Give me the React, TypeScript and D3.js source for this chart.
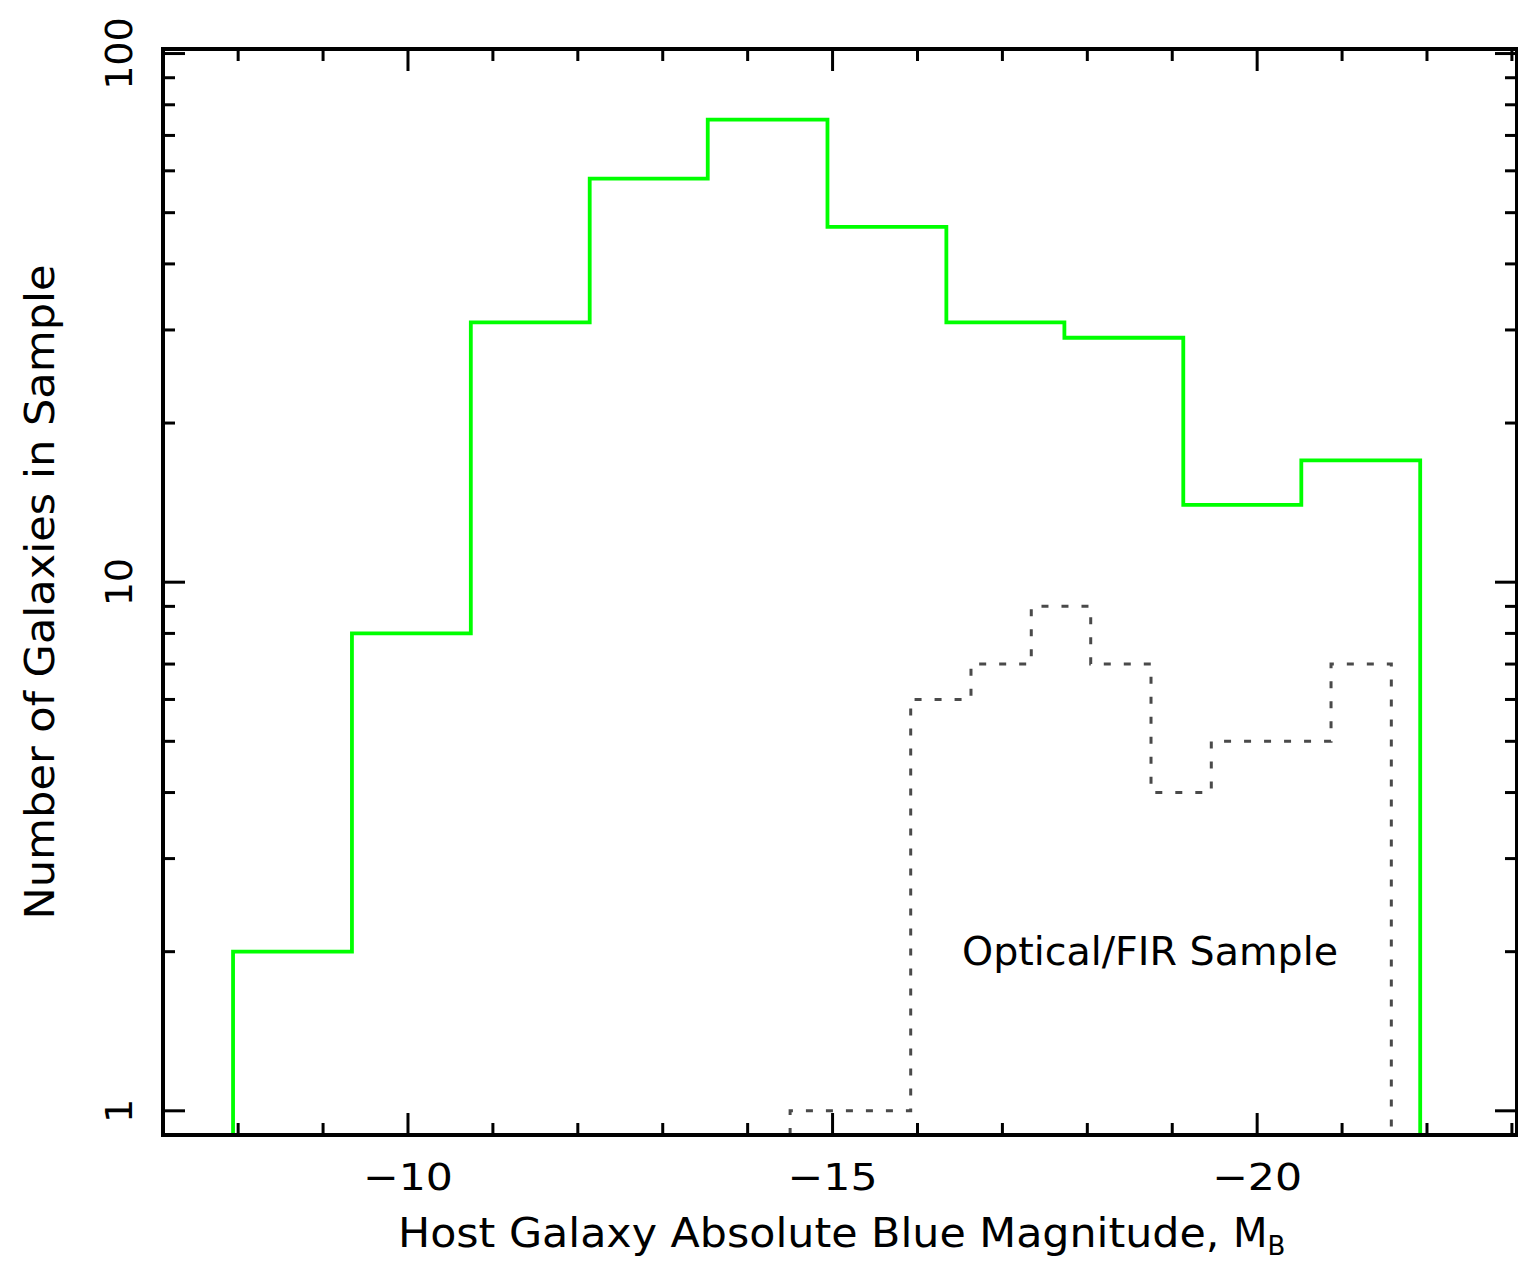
import React from "react";
import * as d3 from "d3";

// Green histogram: bin edges (M_B) and counts
const greenEdges = [-7.94, -9.34, -10.74, -12.14, -13.53, -14.94, -16.34, -17.73, -19.13, -20.52, -21.92];
const greenCounts = [2, 8, 31, 58, 75, 47, 31, 29, 14, 17];

// Optical/FIR sample (dotted)
const firEdges = [-14.5, -15.21, -15.92, -16.63, -17.34, -18.04, -18.75, -19.46, -20.16, -20.87, -21.58];
const firCounts = [1, 1, 6, 7, 9, 7, 4, 5, 5, 7];

const xMajorTicks = [-10, -15, -20];
const xMinorTicks = [-8, -9, -11, -12, -13, -14, -16, -17, -18, -19, -21, -22, -23];
const yMajorTicks = [1, 10, 100];
const yMinorTicks = [2, 3, 4, 5, 6, 7, 8, 9, 20, 30, 40, 50, 60, 70, 80, 90];

const xDomain = [-7.115, -23.06];
const yDomain = [0.9, 102];

const W = 1518;
const H = 1264;
const L = 163, R = 1517, T = 49, B = 1135;

const FONT = "'DejaVu Sans', sans-serif";

function stepPath(edges: number[], counts: number[], x: any, y: any) {
  const pts: [number, number][] = [];
  pts.push([x(edges[0]), B]);
  counts.forEach((c, i) => {
    pts.push([x(edges[i]), y(c)]);
    pts.push([x(edges[i + 1]), y(c)]);
  });
  pts.push([x(edges[edges.length - 1]), B]);
  return d3.line()(pts) as string;
}

export default function App() {
  const x = d3.scaleLinear().domain(xDomain).range([L, R]);
  const y = d3.scaleLog().domain(yDomain).range([B, T]);

  return (
    <svg
      width={W}
      height={H}
      style={{ position: "absolute", left: 0, top: 0, background: "#fff" }}
      fontFamily={FONT}
    >
      <rect x={0} y={0} width={W} height={H} fill="#fff" />
      {/* histograms */}
      <path d={stepPath(greenEdges, greenCounts, x, y)} fill="none" stroke="#00ff00" strokeWidth={3.8} />
      <path
        d={stepPath(firEdges, firCounts, x, y)}
        fill="none"
        stroke="#4a4a4a"
        strokeWidth={3}
        strokeDasharray="7,13"
      />

      {/* x ticks bottom & top */}
      {xMajorTicks.map((t) => (
        <g key={"xM" + t}>
          <line x1={x(t)} x2={x(t)} y1={B} y2={B - 22} stroke="#000" strokeWidth={3} />
          <line x1={x(t)} x2={x(t)} y1={T} y2={T + 22} stroke="#000" strokeWidth={3} />
          <text x={x(t)} y={1190} textAnchor="middle" fontSize={38} textLength={90} lengthAdjust="spacingAndGlyphs">
            {"\u2212" + Math.abs(t)}
          </text>
        </g>
      ))}
      {xMinorTicks.map((t) => (
        <g key={"xm" + t}>
          <line x1={x(t)} x2={x(t)} y1={B} y2={B - 12} stroke="#000" strokeWidth={3} />
          <line x1={x(t)} x2={x(t)} y1={T} y2={T + 12} stroke="#000" strokeWidth={3} />
        </g>
      ))}

      {/* y ticks left & right */}
      {yMajorTicks.map((t) => (
        <g key={"yM" + t}>
          <line x1={L} x2={L + 22} y1={y(t)} y2={y(t)} stroke="#000" strokeWidth={3} />
          <line x1={R} x2={R - 22} y1={y(t)} y2={y(t)} stroke="#000" strokeWidth={3} />
          <text
            transform={`translate(132,${y(t)}) rotate(-90)`}
            textAnchor="middle"
            fontSize={38}
          >
            {String(t)}
          </text>
        </g>
      ))}
      {yMinorTicks.map((t) => (
        <g key={"ym" + t}>
          <line x1={L} x2={L + 12} y1={y(t)} y2={y(t)} stroke="#000" strokeWidth={3} />
          <line x1={R} x2={R - 12} y1={y(t)} y2={y(t)} stroke="#000" strokeWidth={3} />
        </g>
      ))}

      {/* frame */}
      <rect x={L} y={T} width={R - L} height={B - T} fill="none" stroke="#000" strokeWidth={4} />

      {/* annotation */}
      <text x={962} y={965} fontSize={39} textLength={376} lengthAdjust="spacingAndGlyphs">
        Optical/FIR Sample
      </text>

      {/* axis titles */}
      <text x={398} y={1247} fontSize={40}>
        <tspan textLength={835} lengthAdjust="spacingAndGlyphs">Host Galaxy Absolute Blue Magnitude, </tspan>
        <tspan>M</tspan>
        <tspan fontSize={26} dy={8}>B</tspan>
      </text>
      <text
        transform={`translate(54,592) rotate(-90)`}
        textAnchor="middle"
        fontSize={40}
        textLength={655}
        lengthAdjust="spacingAndGlyphs"
      >
        Number of Galaxies in Sample
      </text>
    </svg>
  );
}
